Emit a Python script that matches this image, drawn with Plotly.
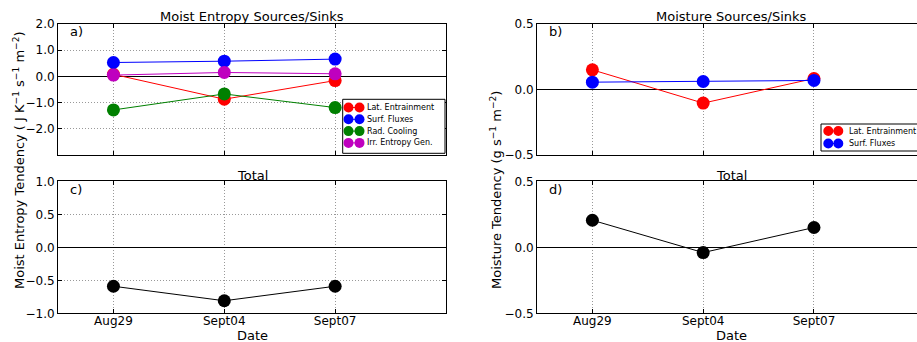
import plotly.graph_objects as go

W, H = 917, 342
dates = ["Aug29", "Sept04", "Sept07"]

# Panel a: moist entropy sources/sinks
lat_entr_s = [0.08, -0.87, -0.16]
surf_flux_s = [0.53, 0.58, 0.66]
rad_cool_s = [-1.28, -0.67, -1.19]
irr_entr_s = [0.05, 0.15, 0.10]
# Panel b: moisture sources/sinks
lat_entr_q = [0.15, -0.104, 0.084]
surf_flux_q = [0.056, 0.061, 0.069]
# Panel c/d totals
total_s = [-0.59, -0.81, -0.59]
total_q = [0.205, -0.04, 0.15]

series_a = [("Lat. Entrainment", "#ff0000", lat_entr_s),
            ("Surf. Fluxes", "#0000ff", surf_flux_s),
            ("Rad. Cooling", "#008000", rad_cool_s),
            ("Irr. Entropy Gen.", "#bf00bf", irr_entr_s)]
series_b = [("Lat. Entrainment", "#ff0000", lat_entr_q),
            ("Surf. Fluxes", "#0000ff", surf_flux_q)]

FONT = "DejaVu Sans"

def px_x(p):
    return p / W

def px_y(p):
    return 1 - p / H

fig = go.Figure()

def add(x, y, name, color, xa, ya):
    fig.add_trace(go.Scatter(
        x=x, y=y, name=name, mode="lines+markers",
        line=dict(color=color, width=1),
        marker=dict(color=color, size=13, line=dict(width=0)),
        xaxis=xa, yaxis=ya, showlegend=False))

for name, col, vals in series_a:
    add(dates, vals, name, col, "x", "y")
for name, col, vals in series_b:
    add(dates, vals, name, col, "x2", "y2")
add(dates, total_s, "Total", "#000000", "x3", "y3")
add(dates, total_q, "Total", "#000000", "x4", "y4")

left_dom = [px_x(58), px_x(446)]
right_dom = [px_x(537), 1.0]
top_dom = [px_y(155), px_y(24)]
bot_dom = [px_y(313.3), px_y(181.3)]

GRID = dict(showgrid=True, gridcolor="#999999", griddash="1px,2px", gridwidth=1)

def xaxis(dom, anchor, labels, rng):
    return dict(domain=dom, anchor=anchor, type="category", categoryorder="array",
                categoryarray=dates, range=rng, showticklabels=labels, automargin=False,
                showline=True, linecolor="black", linewidth=1, mirror="ticks",
                ticks="inside", ticklen=4, tickcolor="black", ticklabelstandoff=-4,
                tickfont=dict(family=FONT, size=12, color="black"), zeroline=False, **GRID)

def yaxis(dom, anchor, rng, tv):
    return dict(domain=dom, anchor=anchor, range=rng, tickvals=tv, tickformat=".1f",
                automargin=False,
                zeroline=True, zerolinecolor="black", zerolinewidth=1,
                showline=True, linecolor="black", linewidth=1, mirror="ticks",
                ticks="inside", ticklen=4, tickcolor="black",
                tickfont=dict(family=FONT, size=12, color="black"), **GRID)

fig.update_layout(
    width=W, height=H, margin=dict(l=0, r=0, t=0, b=0),
    paper_bgcolor="white", plot_bgcolor="white", showlegend=False,
    xaxis=xaxis(left_dom, "y", False, [-0.5, 3.0]),
    yaxis=yaxis(top_dom, "x", [-3, 2], [2, 1, 0, -1, -2]),
    xaxis2=xaxis(right_dom, "y2", False, [-0.5, 2.93]),
    yaxis2=yaxis(top_dom, "x2", [-0.5, 0.5], [-0.5, 0, 0.5]),
    xaxis3=xaxis(left_dom, "y3", True, [-0.5, 3.0]),
    yaxis3=yaxis(bot_dom, "x3", [-1, 1], [-1, -0.5, 0, 0.5, 1]),
    xaxis4=xaxis(right_dom, "y4", True, [-0.5, 2.93]),
    yaxis4=yaxis(bot_dom, "x4", [-0.5, 0.5], [-0.5, 0, 0.5]),
)

ann = []
shapes = []
def txt(x, y, s, size=13, xanchor="center", yanchor="middle", **kw):
    ann.append(dict(x=x, y=y, xref="paper", yref="paper", text=s, showarrow=False,
                    xanchor=xanchor, yanchor=yanchor,
                    font=dict(family=FONT, size=size, color="black"), **kw))

def legend_box(x0, y0, x1, y1, items, c1, c2, tx, ry, dy, r=5):
    shapes.append(dict(type="rect", xref="paper", yref="paper",
                       x0=px_x(x0), x1=px_x(x1), y0=px_y(y1), y1=px_y(y0),
                       line=dict(color="black", width=1), fillcolor="white"))
    for i, (name, col, _) in enumerate(items):
        cy = ry + i * dy
        shapes.append(dict(type="line", xref="paper", yref="paper",
                           x0=px_x(c1), x1=px_x(c2), y0=px_y(cy), y1=px_y(cy),
                           line=dict(color=col, width=1)))
        for cx in (c1, c2):
            shapes.append(dict(type="circle", xref="paper", yref="paper",
                               x0=px_x(cx - r), x1=px_x(cx + r),
                               y0=px_y(cy + r), y1=px_y(cy - r),
                               line=dict(width=0), fillcolor=col))
        txt(px_x(tx), px_y(cy), name, size=8, xanchor="left", yanchor="middle")

legend_box(342.7, 99.3, 445, 153.3, series_a, 348.5, 359.5, 365, 107.5, 11.8)
legend_box(821, 124, 930, 151, series_b, 828.3, 838.3, 847, 131, 12.5)

txt(px_x(252), px_y(17), "Moist Entropy Sources/Sinks")
txt(px_x(731), px_y(17), "Moisture Sources/Sinks")
txt(px_x(252), px_y(175), "Total")
txt(px_x(731), px_y(175), "Total")
txt(px_x(76), px_y(31), "a)")
txt(px_x(555), px_y(31), "b)")
txt(px_x(76), px_y(189), "c)")
txt(px_x(555), px_y(189), "d)")
txt(px_x(252), px_y(335), "Date")
txt(px_x(731), px_y(335), "Date")
txt(px_x(19), px_y(291), "Moist Entropy Tendency ( J K<sup>−1</sup> s<sup>−1</sup> m<sup>−2</sup>)",
    textangle=-90, yanchor="bottom")
txt(px_x(496), px_y(291), "Moisture Tendency (g s<sup>−1</sup> m<sup>−2</sup>)",
    textangle=-90, yanchor="bottom")
fig.update_layout(annotations=ann, shapes=shapes)

fig.write_html("out.html")
